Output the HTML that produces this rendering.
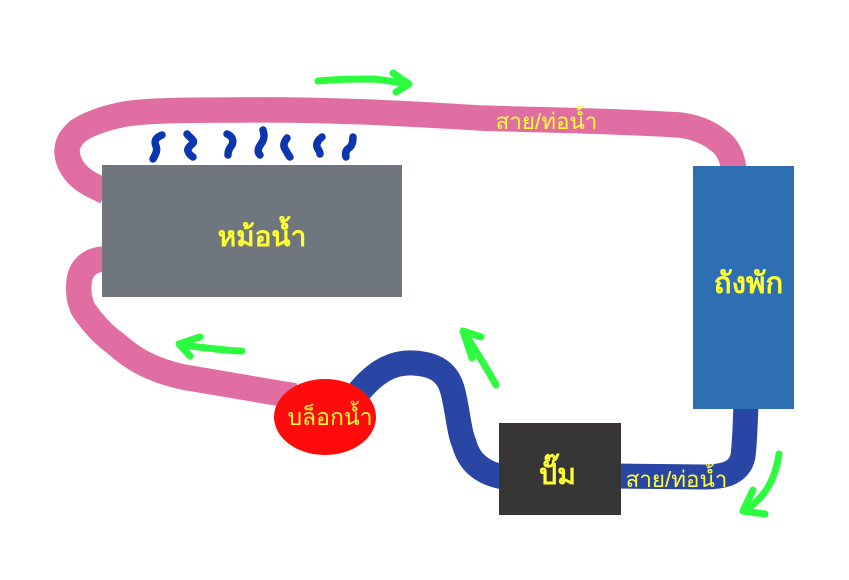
<!DOCTYPE html>
<html lang="th"><head><meta charset="utf-8"><style>
html,body{margin:0;padding:0;background:#fff;width:849px;height:580px;overflow:hidden}
svg{display:block}
text{font-family:"Liberation Sans","DejaVu Sans",sans-serif;fill:#ffff33;text-anchor:middle}
</style></head><body>
<svg width="849" height="580" viewBox="0 0 849 580" xmlns="http://www.w3.org/2000/svg">
<rect width="849" height="580" fill="#fff"/>
<g fill="none" stroke-linecap="butt" stroke-linejoin="round">
<path d="M734,172 C733,158 728,147 718,140 C708,132 695,127 680,125 C620,121 540,120 480,118 C400,113 320,109 240,110 C200,110 150,110 125,114 C105,118 88,124 78,131 C70,138 67,144 67,152 C68,165 76,176 90,184 L106,192" stroke="#e06ea2" stroke-width="25.5"/>
<path d="M106,259 C90,259 80,268 79,283 C78,295 80,302 83,309 C92,322 102,334 115,343 C125,352 135,359 145,364 C157,370 170,374 183,377 L295,396" stroke="#e06ea2" stroke-width="25.5"/>
<path d="M358,393 C375,372 392,362 413,363 C438,364 449,375 453,392 C458,412 459,432 464,443 C469,462 482,473 503,477" stroke="#2a46a4" stroke-width="25"/>
<path d="M746,405 C745,425 745,440 743,456 C741,466 735,471 727,474 C718,477 710,477 705,477 L615,476" stroke="#2a46a4" stroke-width="25"/>
</g>
<g fill="none" stroke="#0a37b0" stroke-width="7.5" stroke-linecap="round" stroke-linejoin="round">
<path d="M162,135 C155,138 154,141 156,146 C158,151 155,155 153,159"/>
<path d="M187,134 C190,138 195,140 193,143 C189,147 187,149 188,151 C189,154 191,156 193,157"/>
<path d="M227,134 C232,136 234,140 232,145 C229,149 228,151 228,155"/>
<path d="M263,130 C265,136 264,140 261,144 C258,148 257,152 260,155"/>
<path d="M287,138 C284,142 283,146 285,149 C287,152 288,155 290,157"/>
<path d="M322,137 C318,140 316,143 317,147 C318,150 320,151 320,154"/>
<path d="M353,137 C353,142 352,146 349,148 C346,150 345,153 346,157"/>
</g>
<g fill="none" stroke="#2dfb3f" stroke-width="7" stroke-linecap="round" stroke-linejoin="round">
<path d="M318,81 C340,79 355,79 373,79 C385,80 395,82 408,84"/>
<path d="M393,73 L409,84 L396,92"/>
<path d="M242,351 C228,351 218,349 207,348 C198,347 188,346 180,344"/>
<path d="M200,337 L179,344 L190,356"/>
<path d="M496,385 C485,365 472,345 464,332"/>
<path d="M481,337 L463,331 L472,358"/>
<path d="M779,454 C775,480 765,498 744,511"/>
<path d="M753,490 L743,511 L765,514"/>
</g>
<rect x="102" y="165" width="300" height="132" fill="#6f767e"/>
<rect x="693" y="166" width="101" height="243" fill="#2e6eb2"/>
<rect x="499" y="423" width="122" height="92" fill="#373535"/>
<ellipse cx="325" cy="417" rx="51" ry="38" fill="#ff0b0b"/>
<text x="262" y="246" font-size="28" font-weight="bold">หม้อน้ำ</text>
<text x="748.5" y="293" font-size="29.5" font-weight="bold">ถังพัก</text>
<text x="557.5" y="484" font-size="28.5" font-weight="bold">ปั๊ม</text>
<text x="330" y="425" font-size="23">บล็อกน้ำ</text>
<text x="546.5" y="129" font-size="22.4">สาย/ท่อน้ำ</text>
<text x="676.5" y="487" font-size="22.4">สาย/ท่อน้ำ</text>
</svg>
</body></html>
